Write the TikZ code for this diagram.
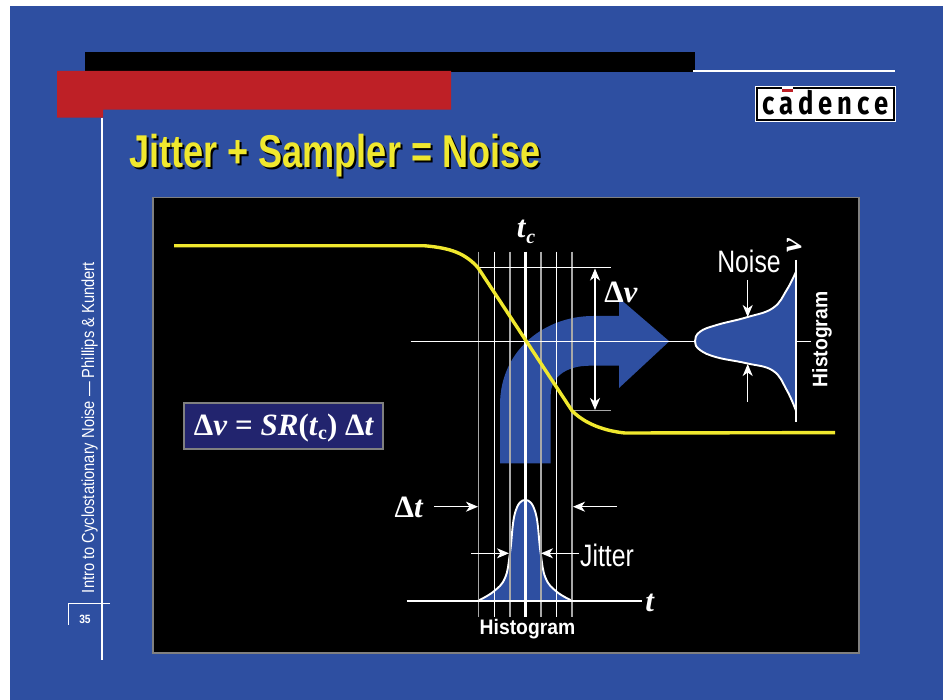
\documentclass[tikz,border=0pt]{standalone}
\usepackage{fontspec}
\setmainfont{Liberation Sans}
\newfontfamily\serfont{Liberation Serif}
\newfontfamily\logofont[LetterSpace=19.5]{Fira Sans}
\usetikzlibrary{arrows.meta}
\definecolor{slideblue}{HTML}{2E4FA1}
\definecolor{slidered}{HTML}{BE2026}
\definecolor{slideyellow}{HTML}{F0E82E}
\definecolor{eqblue}{HTML}{22246E}
\definecolor{linegrey}{HTML}{A8A8A8}
\newcommand{\narrowtxt}[3]{\scalebox{#1}[1]{\fontsize{#2}{#2}\selectfont #3}}
\newcommand{\upDelta}{{\upshape Δ}}
\tikzset{
  x=1pt,y=-1pt,
  whiteline/.style={draw=white,line width=1.4pt},
  greyline/.style={draw=linegrey,line width=1.4pt},
  tiparrow/.style={draw=white,line width=1.1pt,-{Stealth[inset=3.5pt,length=12pt,width=10pt]}},
  dbltiparrow/.style={draw=white,line width=1.1pt,{Stealth[inset=3.5pt,length=12pt,width=10pt]}-{Stealth[inset=3.5pt,length=12pt,width=10pt]}},
  histcurve/.style={draw=white,line width=1.9pt},
  whitetxt/.style={text=white,inner sep=0pt,outer sep=0pt},
  yellowcurve/.style={draw=slideyellow,line width=3.4pt},
}
\begin{document}
\begin{tikzpicture}
\useasboundingbox (0,0) rectangle (943,700);
\fill[white] (0,0) rectangle (943,700);
\fill[slideblue] (10,6) rectangle (943,700);
% header
\fill[black] (85,52) rectangle (695,72);
\draw[white,line width=1.6pt] (693,71) -- (895,71);
\fill[slidered] (57,71) -- (451,71) -- (451,109.7) -- (103,109.7) -- (103,117.7) -- (57,117.7) -- cycle;
% side rule
\draw[white,line width=1.6pt] (101.7,117.7) -- (101.7,660);
\draw[white,line width=1.3pt] (110,603.3) -- (68.7,603.3) -- (68.7,625);
\node[whitetxt,font=\bfseries] (pagenum) at (85,619) {\narrowtxt{.85}{12}{35}};
\node[whitetxt,rotate=90,anchor=west] (sidetext) at (89.5,593) {\narrowtxt{.84}{17.5}{Intro to Cyclostationary Noise — Phillips \& Kundert}};
% logo
\fill[white] (755.3,86) rectangle (896,121.7);
\draw[black,line width=2pt] (757,87.7) rectangle (894.3,120);
\fill[white] (782.3,86) rectangle (792.5,89);
\fill[slidered] (782.3,89) rectangle (792.5,92);
\node[inner sep=0pt,text=black,font=\logofont\bfseries] (logo) at (825.5,103) {\narrowtxt{.8}{32}{cadence}};
% title
\node[inner sep=0pt,text=black,font=\bfseries,anchor=west] (titleshadow) at (131,158) {\narrowtxt{.785}{46}{Jitter + Sampler = Noise}};
\node[inner sep=0pt,text=slideyellow,font=\bfseries,anchor=west] (title) at (129,156) {\narrowtxt{.785}{46}{Jitter + Sampler = Noise}};
% panel
\draw[draw=gray,line width=1.5pt,fill=black] (153,197.5) rectangle (859,653);
% equation box
\node[draw=gray,line width=1.3pt,fill=eqblue,text=white,minimum width=199pt,minimum height=46pt,inner sep=0pt] (eq) at (283.5,426) {};
\node[text=white,inner sep=0pt,font=\serfont\bfseries] (eqtext) at (284,428)
  {\fontsize{31}{31}\selectfont \upDelta\textit{v} = \textit{SR}(\textit{t}\raisebox{-4pt}{\fontsize{20}{20}\selectfont c}) \upDelta\textit{t}};
% blue bent arrow
\fill[slideblue] (500,463.3) -- (500,405)
  .. controls (500,350) and (545,316) .. (593,316)
  -- (619,316) -- (619,298) -- (669.3,341.3) -- (619,388) -- (619,365.7) -- (590,365.7)
  .. controls (565,365.7) and (550.7,378) .. (550.7,395)
  -- (550.7,463.3) -- cycle;
% time histogram
\fill[slideblue] plot[smooth,tension=.7] coordinates {(478,600.7) (493.3,591.7) (505,578) (510,553) (515,513) (525.3,500) (535.6,513) (540.6,553) (545.6,578) (556.7,591.7) (572,600.7)} -- cycle;
\draw[histcurve] plot[smooth,tension=.7] coordinates {(478,600.7) (493.3,591.7) (505,578) (510,553) (515,513) (525.3,500) (535.6,513) (540.6,553) (545.6,578) (556.7,591.7) (572,600.7)};
% noise histogram
\fill[slideblue] plot[smooth,tension=.7] coordinates {(796,271.7) (786.7,290) (773,308) (746.7,317.3) (716.7,325) (700,331.7) (695,341.3) (700,350) (716.7,357.3) (746.7,363.3) (773,370.7) (786.7,390) (796,410.7)} -- cycle;
\draw[histcurve] plot[smooth,tension=.7] coordinates {(796,271.7) (786.7,290) (773,308) (746.7,317.3) (716.7,325) (700,331.7) (695,341.3) (700,350) (716.7,357.3) (746.7,363.3) (773,370.7) (786.7,390) (796,410.7)};
% sampling grid
\draw[greyline] (478.7,251.7) -- (478.7,616.7);
\draw[whiteline] (494.3,251.7) -- (494.3,616.7);
\draw[greyline] (510,251.7) -- (510,616.7);
\draw[draw=white,line width=2.8pt] (525.3,251.7) -- (525.3,616.7);
\draw[greyline] (541,251.7) -- (541,616.7);
\draw[whiteline] (556.7,251.7) -- (556.7,616.7);
\draw[greyline] (572,251.7) -- (572,616.7);
\draw[whiteline] (478,267.7) -- (610.7,267.7);
\draw[greyline] (572,410.7) -- (610.7,410.7);
\draw[whiteline] (410.7,341.3) -- (695,341.3);
\draw[whiteline] (796,341.3) -- (810.7,341.3);
\draw[whiteline,line width=1.6pt] (796,260) -- (796,422);
\draw[draw=white,line width=2pt] (406.7,600.9) -- (641.7,600.9);
% waveform
\draw[yellowcurve] (174,245.8) -- (425,245.8) .. controls (450,248) and (465,253) .. (478,267.7)
  -- (572,410.7) .. controls (585,424) and (605,431) .. (625,433) -- (835,432.6);
% arrows
\draw[dbltiparrow] (595,268.5) -- (595,410);
\draw[tiparrow] (747.7,280) -- (747.7,317);
\draw[tiparrow] (747.7,401.7) -- (747.7,364);
\draw[tiparrow] (434,506.7) -- (478,506.7);
\draw[tiparrow] (617,506.7) -- (573,506.7);
\draw[tiparrow] (471,553.3) -- (509,553.3);
\draw[tiparrow] (579,553.3) -- (541,553.3);
% labels
\node[whitetxt,font=\serfont\bfseries] (tclabel) at (526,232) {\fontsize{31}{31}\selectfont\textit{t}\raisebox{-6pt}{\fontsize{20}{20}\selectfont\textit{c}}};
\node[whitetxt,font=\serfont\bfseries] (dvlabel) at (621,292) {\fontsize{31}{31}\selectfont \upDelta\textit{v}};
\node[whitetxt,font=\serfont\bfseries] (dtlabel) at (409,507) {\fontsize{31}{31}\selectfont \upDelta\textit{t}};
\node[whitetxt,font=\serfont\bfseries] (tlabel) at (650,603) {\fontsize{31}{31}\selectfont\textit{t}};
\node[whitetxt,font=\serfont\bfseries,rotate=90] (vlabel) at (795,245) {\fontsize{31}{31}\selectfont\textit{v}};
\node[whitetxt] (noise) at (749,261) {\narrowtxt{.8}{31}{Noise}};
\node[whitetxt] (jitter) at (607,555) {\narrowtxt{.8}{31}{Jitter}};
\node[whitetxt,font=\bfseries] (histb) at (527.5,629) {\narrowtxt{.92}{21}{Histogram}};
\node[whitetxt,font=\bfseries,rotate=90] (histr) at (822,339.5) {\narrowtxt{.92}{21}{Histogram}};
\end{tikzpicture}
\end{document}
